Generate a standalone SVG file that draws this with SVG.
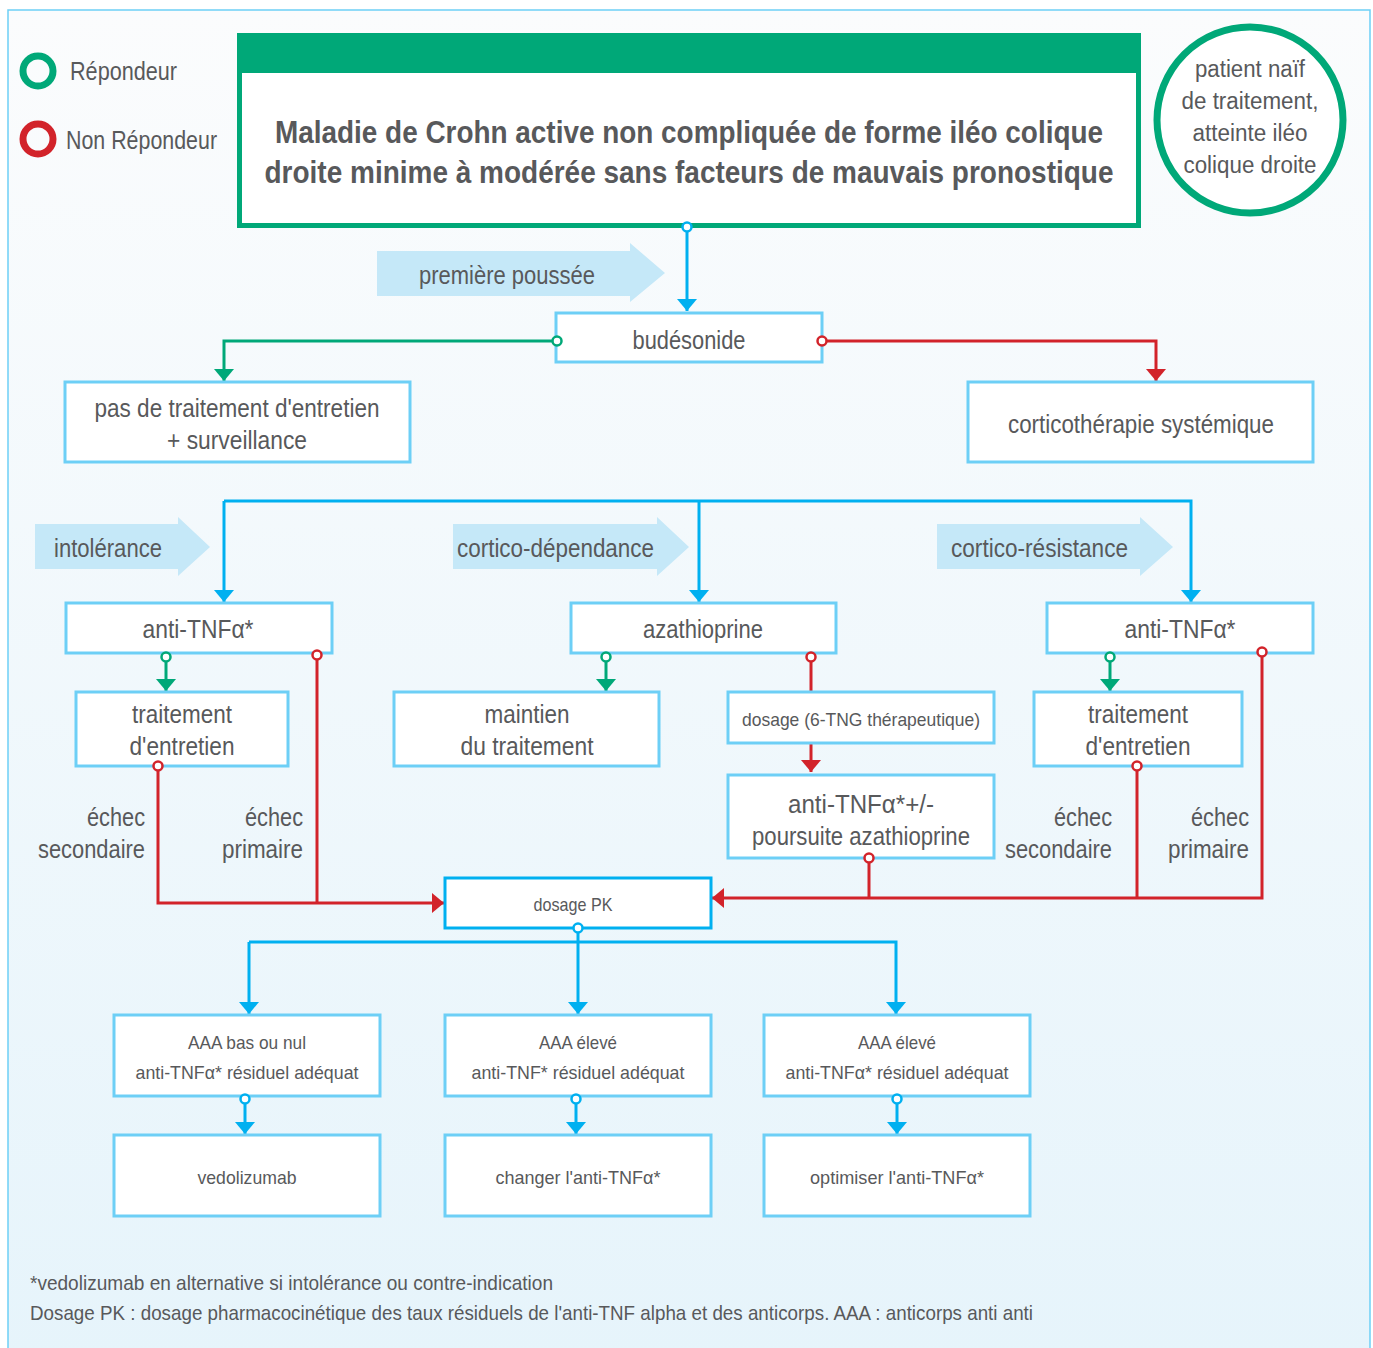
<svg xmlns="http://www.w3.org/2000/svg" width="1373" height="1348" viewBox="0 0 1373 1348">
<defs>
<linearGradient id="bg" x1="0" y1="0" x2="0" y2="1">
<stop offset="0" stop-color="#fbfcfd"/>
<stop offset="1" stop-color="#e6f4fb"/>
</linearGradient>
<marker id="aB" viewBox="0 0 10 10" refX="10" refY="5" markerWidth="12" markerHeight="20" markerUnits="userSpaceOnUse" orient="auto" preserveAspectRatio="none"><path d="M0,0L10,5L0,10Z" fill="#00b0f0"/></marker>
<marker id="aG" viewBox="0 0 10 10" refX="10" refY="5" markerWidth="12" markerHeight="20" markerUnits="userSpaceOnUse" orient="auto" preserveAspectRatio="none"><path d="M0,0L10,5L0,10Z" fill="#00a878"/></marker>
<marker id="aR" viewBox="0 0 10 10" refX="10" refY="5" markerWidth="12" markerHeight="20" markerUnits="userSpaceOnUse" orient="auto" preserveAspectRatio="none"><path d="M0,0L10,5L0,10Z" fill="#d2232a"/></marker>
</defs>
<style>
text{font-family:"Liberation Sans",Arial,sans-serif;fill:#58595b}
.box{fill:#fff;stroke:#6dcff6;stroke-width:3}
.t25{font-size:25px;text-anchor:middle}
.t23{font-size:23px;text-anchor:middle}
.t19{font-size:19px;text-anchor:middle}
.lb{fill:none;stroke:#00b0f0;stroke-width:3}
.lg{fill:none;stroke:#00a878;stroke-width:3}
.lr{fill:none;stroke:#d2232a;stroke-width:3}
.cb{fill:#fff;stroke:#00b0f0;stroke-width:2.5}
.cg{fill:#fff;stroke:#00a878;stroke-width:2.5}
.cr{fill:#fff;stroke:#d2232a;stroke-width:2.5}
.arw{fill:#c5e8f8}
.tag{font-size:25px}
.ech{font-size:25px;text-anchor:end}
</style>
<rect x="8" y="10" width="1362" height="1350" fill="url(#bg)" stroke="#6dcff6" stroke-width="1.5"/>

<g id="legend">
<circle cx="38" cy="71" r="15" fill="none" stroke="#00a878" stroke-width="7"/>
<text x="70" y="80" font-size="25" textLength="107" lengthAdjust="spacingAndGlyphs">Répondeur</text>
<circle cx="38" cy="139" r="15" fill="none" stroke="#d2232a" stroke-width="7"/>
<text x="66" y="149" font-size="25" textLength="151" lengthAdjust="spacingAndGlyphs">Non Répondeur</text>
</g>

<g id="header">
<rect x="239.5" y="35.5" width="899" height="190" fill="#fff" stroke="#00a878" stroke-width="5"/>
<rect x="237" y="33" width="904" height="40" fill="#00a878"/>
<text x="689" y="143" font-size="32" font-weight="bold" text-anchor="middle" textLength="828" lengthAdjust="spacingAndGlyphs">Maladie de Crohn active non compliquée de forme iléo colique</text>
<text x="689" y="183" font-size="32" font-weight="bold" text-anchor="middle" textLength="849" lengthAdjust="spacingAndGlyphs">droite minime à modérée sans facteurs de mauvais pronostique</text>
</g>

<g id="patient">
<circle cx="1250" cy="120" r="93" fill="#fff" stroke="#00a878" stroke-width="7"/>
<text x="1250" y="77" class="t23" textLength="110" lengthAdjust="spacingAndGlyphs">patient naïf</text>
<text x="1250" y="109" class="t23" textLength="137" lengthAdjust="spacingAndGlyphs">de traitement,</text>
<text x="1250" y="141" class="t23" textLength="115" lengthAdjust="spacingAndGlyphs">atteinte iléo</text>
<text x="1250" y="173" class="t23" textLength="133" lengthAdjust="spacingAndGlyphs">colique droite</text>
</g>

<g id="tag-premiere">
<path class="arw" d="M377,251H630V243L665,273L630,302V296H377Z"/>
<text x="507" y="284" class="tag" text-anchor="middle" textLength="176" lengthAdjust="spacingAndGlyphs">première poussée</text>
</g>
<g id="tag-intolerance">
<path class="arw" d="M35,524H178V517L210,547L178,576V569H35Z"/>
<text x="54" y="557" class="tag" textLength="108" lengthAdjust="spacingAndGlyphs">intolérance</text>
</g>
<g id="tag-dependance">
<path class="arw" d="M453,524H657V517L689,547L657,576V569H453Z"/>
<text x="457" y="557" class="tag" textLength="197" lengthAdjust="spacingAndGlyphs">cortico-dépendance</text>
</g>
<g id="tag-resistance">
<path class="arw" d="M937,524H1140V517L1173,547L1140,576V569H937Z"/>
<text x="951" y="557" class="tag" textLength="177" lengthAdjust="spacingAndGlyphs">cortico-résistance</text>
</g>

<g id="connectors">
<path class="lb" d="M687,227V311" marker-end="url(#aB)"/>
<path class="lg" d="M557,341H224V381" marker-end="url(#aG)"/>
<path class="lr" d="M822,341H1156V381" marker-end="url(#aR)"/>
<path class="lb" d="M224,501H1191V602" marker-end="url(#aB)"/>
<path class="lb" d="M224,501V602" marker-end="url(#aB)"/>
<path class="lb" d="M699,501V602" marker-end="url(#aB)"/>
<path class="lg" d="M166,657V691" marker-end="url(#aG)"/>
<path class="lg" d="M606,657V691" marker-end="url(#aG)"/>
<path class="lg" d="M1110,657V691" marker-end="url(#aG)"/>
<path class="lr" d="M811,657V692"/>
<path class="lr" d="M811,743V772" marker-end="url(#aR)"/>
<path class="lr" d="M158,766V903H444" marker-end="url(#aR)"/>
<path class="lr" d="M317,655V903"/>
<path class="lr" d="M1262,652V898H712" marker-end="url(#aR)"/>
<path class="lr" d="M869,858V898"/>
<path class="lr" d="M1137,766V898"/>
<path class="lb" d="M578,928V1014" marker-end="url(#aB)"/>
<path class="lb" d="M249,942H896V1014" marker-end="url(#aB)"/>
<path class="lb" d="M249,942V1014" marker-end="url(#aB)"/>
<path class="lb" d="M245,1099V1134" marker-end="url(#aB)"/>
<path class="lb" d="M576,1099V1134" marker-end="url(#aB)"/>
<path class="lb" d="M897,1099V1134" marker-end="url(#aB)"/>
</g>

<g id="n-budesonide">
<rect class="box" x="556" y="313" width="266" height="49"/>
<text x="689" y="349" class="t25" textLength="113" lengthAdjust="spacingAndGlyphs">budésonide</text>
</g>
<g id="n-pas">
<rect class="box" x="65" y="382" width="345" height="80"/>
<text x="237" y="417" class="t25" textLength="285" lengthAdjust="spacingAndGlyphs">pas de traitement d'entretien</text>
<text x="237" y="449" class="t25" textLength="140" lengthAdjust="spacingAndGlyphs">+ surveillance</text>
</g>
<g id="n-cortico">
<rect class="box" x="968" y="382" width="345" height="80"/>
<text x="1141" y="433" class="t25" textLength="266" lengthAdjust="spacingAndGlyphs">corticothérapie systémique</text>
</g>
<g id="n-antitnf-l">
<rect class="box" x="66" y="603" width="266" height="50"/>
<text x="198" y="638" class="t25" textLength="111" lengthAdjust="spacingAndGlyphs">anti-TNFα*</text>
</g>
<g id="n-aza">
<rect class="box" x="571" y="603" width="265" height="50"/>
<text x="703" y="638" class="t25" textLength="120" lengthAdjust="spacingAndGlyphs">azathioprine</text>
</g>
<g id="n-antitnf-r">
<rect class="box" x="1047" y="603" width="266" height="50"/>
<text x="1180" y="638" class="t25" textLength="111" lengthAdjust="spacingAndGlyphs">anti-TNFα*</text>
</g>
<g id="n-entretien-l">
<rect class="box" x="76" y="692" width="212" height="74"/>
<text x="182" y="723" class="t25" textLength="100" lengthAdjust="spacingAndGlyphs">traitement</text>
<text x="182" y="755" class="t25" textLength="105" lengthAdjust="spacingAndGlyphs">d'entretien</text>
</g>
<g id="n-maintien">
<rect class="box" x="394" y="692" width="265" height="74"/>
<text x="527" y="723" class="t25" textLength="85" lengthAdjust="spacingAndGlyphs">maintien</text>
<text x="527" y="755" class="t25" textLength="133" lengthAdjust="spacingAndGlyphs">du traitement</text>
</g>
<g id="n-dosage6">
<rect class="box" x="728" y="692" width="266" height="51"/>
<text x="861" y="726" class="t19" textLength="238" lengthAdjust="spacingAndGlyphs">dosage (6-TNG thérapeutique)</text>
</g>
<g id="n-antitnf-aza">
<rect class="box" x="728" y="775" width="266" height="83"/>
<text x="861" y="813" class="t25" textLength="146" lengthAdjust="spacingAndGlyphs">anti-TNFα*+/-</text>
<text x="861" y="845" class="t25" textLength="218" lengthAdjust="spacingAndGlyphs">poursuite azathioprine</text>
</g>
<g id="n-entretien-r">
<rect class="box" x="1034" y="692" width="208" height="74"/>
<text x="1138" y="723" class="t25" textLength="100" lengthAdjust="spacingAndGlyphs">traitement</text>
<text x="1138" y="755" class="t25" textLength="105" lengthAdjust="spacingAndGlyphs">d'entretien</text>
</g>
<g id="labels-echec">
<text x="145" y="826" class="ech" textLength="58" lengthAdjust="spacingAndGlyphs">échec</text>
<text x="145" y="858" class="ech" textLength="107" lengthAdjust="spacingAndGlyphs">secondaire</text>
<text x="303" y="826" class="ech" textLength="58" lengthAdjust="spacingAndGlyphs">échec</text>
<text x="303" y="858" class="ech" textLength="81" lengthAdjust="spacingAndGlyphs">primaire</text>
<text x="1112" y="826" class="ech" textLength="58" lengthAdjust="spacingAndGlyphs">échec</text>
<text x="1112" y="858" class="ech" textLength="107" lengthAdjust="spacingAndGlyphs">secondaire</text>
<text x="1249" y="826" class="ech" textLength="58" lengthAdjust="spacingAndGlyphs">échec</text>
<text x="1249" y="858" class="ech" textLength="81" lengthAdjust="spacingAndGlyphs">primaire</text>
</g>
<g id="n-dosagepk">
<rect x="445" y="878" width="266" height="50" fill="#fff" stroke="#00b0f0" stroke-width="3"/>
<text x="573" y="911" class="t19" textLength="79" lengthAdjust="spacingAndGlyphs">dosage PK</text>
</g>
<g id="n-aaa1">
<rect class="box" x="114" y="1015" width="266" height="81"/>
<text x="247" y="1049" class="t19" textLength="118" lengthAdjust="spacingAndGlyphs">AAA bas ou nul</text>
<text x="247" y="1079" class="t19" textLength="223" lengthAdjust="spacingAndGlyphs">anti-TNFα* résiduel adéquat</text>
</g>
<g id="n-aaa2">
<rect class="box" x="445" y="1015" width="266" height="81"/>
<text x="578" y="1049" class="t19" textLength="78" lengthAdjust="spacingAndGlyphs">AAA élevé</text>
<text x="578" y="1079" class="t19" textLength="213" lengthAdjust="spacingAndGlyphs">anti-TNF* résiduel adéquat</text>
</g>
<g id="n-aaa3">
<rect class="box" x="764" y="1015" width="266" height="81"/>
<text x="897" y="1049" class="t19" textLength="78" lengthAdjust="spacingAndGlyphs">AAA élevé</text>
<text x="897" y="1079" class="t19" textLength="223" lengthAdjust="spacingAndGlyphs">anti-TNFα* résiduel adéquat</text>
</g>
<g id="n-vedo">
<rect class="box" x="114" y="1135" width="266" height="81"/>
<text x="247" y="1184" class="t19" textLength="99" lengthAdjust="spacingAndGlyphs">vedolizumab</text>
</g>
<g id="n-changer">
<rect class="box" x="445" y="1135" width="266" height="81"/>
<text x="578" y="1184" class="t19" textLength="165" lengthAdjust="spacingAndGlyphs">changer l'anti-TNFα*</text>
</g>
<g id="n-optimiser">
<rect class="box" x="764" y="1135" width="266" height="81"/>
<text x="897" y="1184" class="t19" textLength="174" lengthAdjust="spacingAndGlyphs">optimiser l'anti-TNFα*</text>
</g>

<g id="ports">
<circle class="cb" cx="687" cy="227" r="4.5"/>
<circle class="cg" cx="557" cy="341" r="4.5"/>
<circle class="cr" cx="822" cy="341" r="4.5"/>
<circle class="cg" cx="166" cy="657" r="4.5"/>
<circle class="cr" cx="317" cy="655" r="4.5"/>
<circle class="cg" cx="606" cy="657" r="4.5"/>
<circle class="cr" cx="811" cy="657" r="4.5"/>
<circle class="cg" cx="1110" cy="657" r="4.5"/>
<circle class="cr" cx="1262" cy="652" r="4.5"/>
<circle class="cr" cx="158" cy="766" r="4.5"/>
<circle class="cr" cx="1137" cy="766" r="4.5"/>
<circle class="cr" cx="869" cy="858" r="4.5"/>
<circle class="cb" cx="578" cy="928" r="4.5"/>
<circle class="cb" cx="245" cy="1099" r="4.5"/>
<circle class="cb" cx="576" cy="1099" r="4.5"/>
<circle class="cb" cx="897" cy="1099" r="4.5"/>
</g>

<g id="footer">
<text x="30" y="1290" font-size="21" textLength="523" lengthAdjust="spacingAndGlyphs">*vedolizumab en alternative si intolérance ou contre-indication</text>
<text x="30" y="1320" font-size="21" textLength="1003" lengthAdjust="spacingAndGlyphs">Dosage PK : dosage pharmacocinétique des taux résiduels de l'anti-TNF alpha et des anticorps. AAA : anticorps anti anti</text>
</g>
</svg>
